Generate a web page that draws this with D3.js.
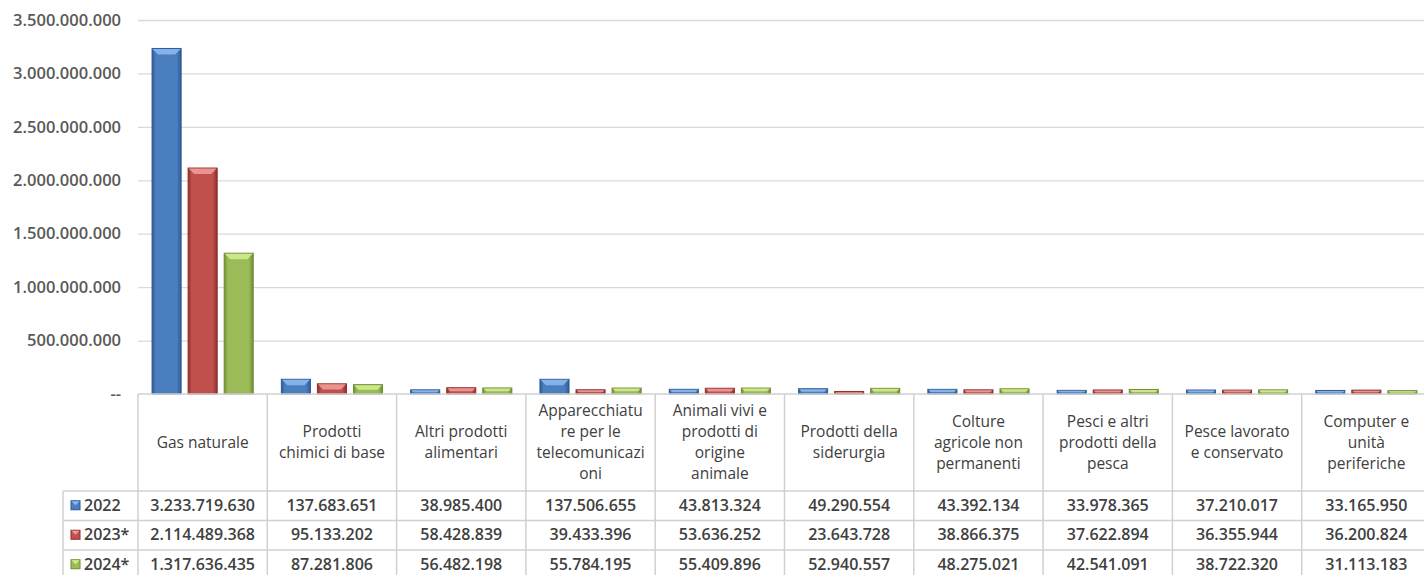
<!DOCTYPE html>
<html lang="it">
<head>
<meta charset="utf-8">
<title>Import per prodotto</title>
<script type="text/javascript" src="https://d3js.org/d3.v7.min.js"></script>
<style>
  body { margin: 0; background: #fff; }
  text { font-family: "Open Sans", "Noto Sans", sans-serif; fill: #404040; }
</style>
</head>
<body>
<div id="container"></div>
<script type="text/javascript">

var w = 1424;
var h = 575;

// data
var categories = [
  ["Gas naturale"],
  ["Prodotti", "chimici di base"],
  ["Altri prodotti", "alimentari"],
  ["Apparecchiatu", "re per le", "telecomunicazi", "oni"],
  ["Animali vivi e", "prodotti di", "origine", "animale"],
  ["Prodotti della", "siderurgia"],
  ["Colture", "agricole non", "permanenti"],
  ["Pesci e altri", "prodotti della", "pesca"],
  ["Pesce lavorato", "e conservato"],
  ["Computer e", "unità", "periferiche"]
];
var series = ["2022", "2023*", "2024*"];
var v2022 = [3233719630, 137683651, 38985400, 137506655, 43813324, 49290554, 43392134, 33978365, 37210017, 33165950];
var v2023 = [2114489368, 95133202, 58428839, 39433396, 53636252, 23643728, 38866375, 37622894, 36355944, 36200824];
var v2024 = [1317636435, 87281806, 56482198, 55784195, 55409896, 52940557, 48275021, 42541091, 38722320, 31113183];
var yTicks = [0, 500000000, 1000000000, 1500000000, 2000000000, 2500000000, 3000000000, 3500000000];

var values = [v2022, v2023, v2024];
var colors = ["#4a7ebf", "#c0504d", "#9bbb59"];
var darks = ["#2c5a94", "#8f2e2b", "#6f8c33"];
var lights = ["#8db8f0", "#f09a96", "#d2ec8f"];

var it = d3.formatLocale({decimal: ",", thousands: ".", grouping: [3], currency: ["", " €"]});
var fmt = it.format(",d");

var svg = d3.select("div#container").append("svg")
  .attr("width", w).attr("height", h);

var defs = svg.append("defs");
colors.forEach(function(c, i) {
  var g = defs.append("linearGradient").attr("id", "g" + i)
    .attr("x1", "0%").attr("x2", "100%").attr("y1", "0%").attr("y2", "0%");
  g.append("stop").attr("offset", "0%").attr("stop-color", darks[i]);
  g.append("stop").attr("offset", "12%").attr("stop-color", c);
  g.append("stop").attr("offset", "85%").attr("stop-color", c);
  g.append("stop").attr("offset", "100%").attr("stop-color", darks[i]);
});

var left = 138, colW = 129.3;
var x = d3.scaleBand().domain(d3.range(categories.length))
  .range([left, left + colW * categories.length]);
var x1 = d3.scaleBand().domain(d3.range(series.length))
  .range([0, x.bandwidth()]).paddingInner(0.194).paddingOuter(0.39);
var y = d3.scaleLinear().domain([0, 3500000000]).range([394, 20]);

// grid
svg.append("g").selectAll("line").data(yTicks.slice(1)).enter().append("line")
  .attr("x1", left).attr("x2", w)
  .attr("y1", function(d) { return y(d) + 0.5; })
  .attr("y2", function(d) { return y(d) + 0.5; })
  .attr("stroke", "#d9d9d9").attr("stroke-width", 1.3);

// y labels
svg.append("g").selectAll("text").data(yTicks).enter().append("text")
  .attr("x", 121).attr("y", function(d) { return y(d); })
  .attr("dy", "0.35em").attr("text-anchor", "end")
  .style("font-size", "16.5px").style("font-weight", 600).style("fill", "#595959")
  .text(function(d) { return d === 0 ? "--" : fmt(d); });

// bars
var groups = svg.append("g").selectAll("g").data(categories).enter().append("g")
  .attr("transform", function(d, i) { return "translate(" + x(i) + ",0)"; });

groups.each(function(cat, ci) {
  var g = d3.select(this);
  series.forEach(function(s, si) {
    var val = values[si][ci];
    var bx = x1(si), bw = x1.bandwidth();
    var by = y(val), bh = y(0) - y(val);
    g.append("rect").attr("x", bx).attr("y", by).attr("width", bw).attr("height", bh)
      .attr("fill", "url(#g" + si + ")").attr("stroke", darks[si]).attr("stroke-width", 1);
    var bev = Math.min(6, bh * 0.55);
    g.append("polygon")
      .attr("points", [[bx + 0.5, by + 0.5], [bx + bw - 0.5, by + 0.5], [bx + bw - bev, by + bev], [bx + bev, by + bev]].join(" "))
      .attr("fill", lights[si]).attr("opacity", 0.9);
  });
});

// data table
var tbl = svg.append("g");
var hTop = 394, hBot = 491, rowH = 29.5;
var gridC = "#d0d0d0";
tbl.append("line").attr("x1", left).attr("x2", w).attr("y1", hTop).attr("y2", hTop)
  .attr("stroke", gridC).attr("stroke-width", 1.5);
d3.range(categories.length + 1).forEach(function(i) {
  var xx = left + colW * i;
  tbl.append("line").attr("x1", xx).attr("x2", xx).attr("y1", hTop).attr("y2", h)
    .attr("stroke", gridC).attr("stroke-width", 1.5);
});
tbl.append("line").attr("x1", 63).attr("x2", 63).attr("y1", hBot).attr("y2", h)
  .attr("stroke", gridC).attr("stroke-width", 1.5);
d3.range(series.length).forEach(function(i) {
  var yy = hBot + rowH * i;
  tbl.append("line").attr("x1", 63).attr("x2", w).attr("y1", yy).attr("y2", yy)
    .attr("stroke", gridC).attr("stroke-width", 1.5);
});

// header
categories.forEach(function(lines, ci) {
  var cx = x(ci) + x.bandwidth() / 2;
  var lh = 21;
  var y0 = (hTop + hBot) / 2 - (lines.length - 1) * lh / 2;
  var t = tbl.append("text").attr("text-anchor", "middle")
    .style("font-size", "15.5px").style("font-weight", 500);
  lines.forEach(function(l, li) {
    t.append("tspan").attr("x", cx).attr("y", y0 + li * lh).attr("dy", "0.35em").text(l);
  });
});

// rows
series.forEach(function(s, si) {
  var cy = hBot + rowH * si + rowH / 2 - 0.5;
  var kx = 71, ks = 9;
  tbl.append("rect").attr("x", kx).attr("y", cy - ks / 2).attr("width", ks).attr("height", ks)
    .attr("fill", colors[si]).attr("stroke", darks[si]);
  tbl.append("polygon")
    .attr("points", [[kx + 0.5, cy - ks / 2 + 0.5], [kx + ks - 0.5, cy - ks / 2 + 0.5], [kx + ks / 2, cy]].join(" "))
    .attr("fill", lights[si]);
  tbl.append("text").attr("x", 84).attr("y", cy).attr("dy", "0.35em")
    .style("font-size", "16px").style("font-weight", 600).text(s);
  values[si].forEach(function(v, ci) {
    tbl.append("text").attr("x", x(ci) + x.bandwidth() / 2).attr("y", cy).attr("dy", "0.35em")
      .attr("text-anchor", "middle").style("font-size", "16px").style("font-weight", 600)
      .text(fmt(v));
  });
});

</script>
</body>
</html>
